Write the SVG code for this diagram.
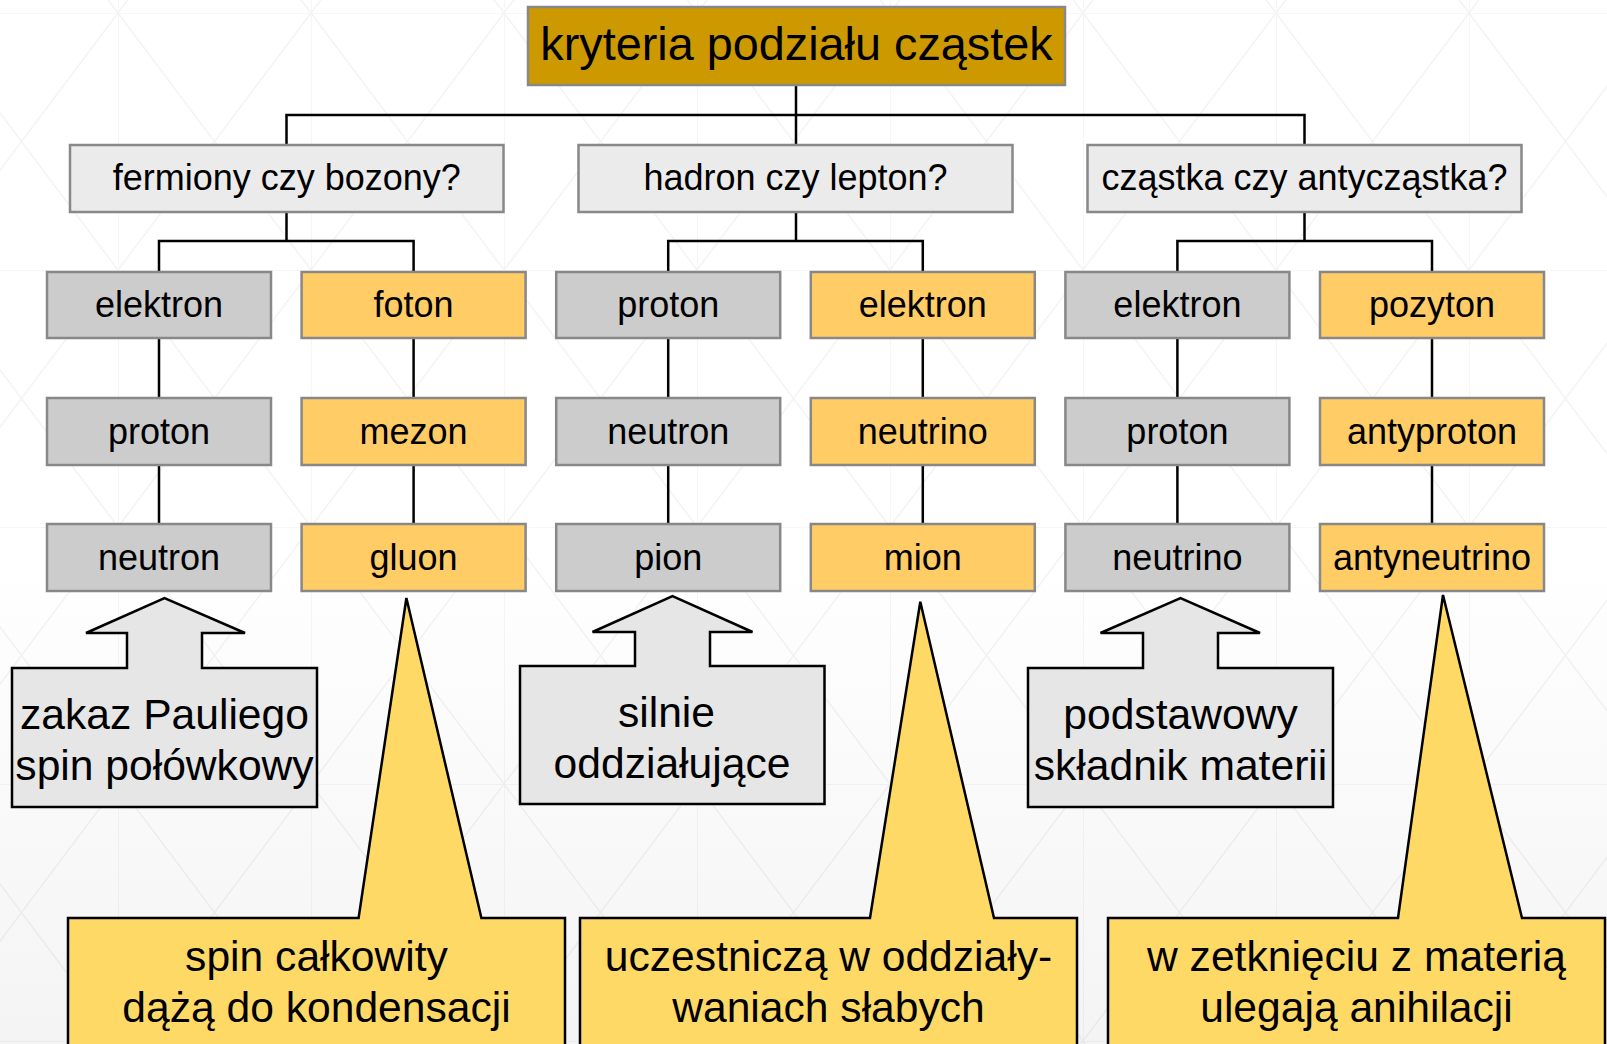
<svg xmlns="http://www.w3.org/2000/svg" width="1607" height="1044" viewBox="0 0 1607 1044">
<style>
text{font-family:"Liberation Sans",Arial,sans-serif;fill:#000;text-anchor:middle}
.root{fill:#CC9900;stroke:#888;stroke-width:2.5}
.q{fill:#EBEBEB;stroke:#888;stroke-width:2.5}
.g{fill:#CCCCCC;stroke:#888;stroke-width:2.5}
.o{fill:#FFCC66;stroke:#888;stroke-width:2.5}
.cg{fill:#E6E6E6;stroke:#000;stroke-width:2.5}
.cy{fill:#FFD966;stroke:#000;stroke-width:2.5}
.t46{font-size:46.8px}
.t36{font-size:36px}
.t42{font-size:42.6px}
.conn{fill:none;stroke:#000;stroke-width:2.5}
</style>
<defs>
<linearGradient id="bg" x1="0" y1="0" x2="0" y2="1">
<stop offset="0" stop-color="#FFFFFF"/>
<stop offset="0.53" stop-color="#FFFFFF"/>
<stop offset="1" stop-color="#F4F4F4"/>
</linearGradient>
<pattern id="lat" patternUnits="userSpaceOnUse" x="118" y="13" width="193" height="257">
<path d="M0,0H193M0,0V257M0,0L193,257M193,0L0,257" fill="none" stroke="#000" stroke-opacity="0.045" stroke-width="1.5"/>
</pattern>
</defs>
<rect width="1607" height="1044" fill="url(#bg)"/>
<rect width="1607" height="1044" fill="url(#lat)"/>

<g id="connectors">
<path class="conn" d="M796,85V115M286.5,145V115H1304.5V145M796,115V145"/>
<path class="conn" d="M286.5,212V241M159,272V241H413.6V272"/>
<path class="conn" d="M796,212V241M668.2,272V241H922.8V272"/>
<path class="conn" d="M1304.5,212V241M1177.4,272V241H1432V272"/>
<path class="conn" d="M159,338V398M159,465V524M413.6,338V398M413.6,465V524M668.2,338V398M668.2,465V524M922.8,338V398M922.8,465V524M1177.4,338V398M1177.4,465V524M1432,338V398M1432,465V524"/>
</g>

<g id="root"><rect class="root" x="528" y="7" width="537" height="78"/><text class="t46" x="796.5" y="60">kryteria podziału cząstek</text></g>

<g id="q1"><rect class="q" x="70" y="145" width="433.5" height="67"/><text class="t36" x="286.8" y="190">fermiony czy bozony?</text></g>
<g id="q2"><rect class="q" x="578.5" y="145" width="434" height="67"/><text class="t36" x="795.5" y="190">hadron czy lepton?</text></g>
<g id="q3"><rect class="q" x="1087.5" y="145" width="434" height="67"/><text class="t36" x="1304.5" y="190">cząstka czy antycząstka?</text></g>

<g id="n11"><rect class="g" x="47" y="272" width="224" height="66"/><text class="t36" x="159" y="317">elektron</text></g>
<g id="n12"><rect class="g" x="47" y="398" width="224" height="67"/><text class="t36" x="159" y="443.5">proton</text></g>
<g id="n13"><rect class="g" x="47" y="524" width="224" height="67"/><text class="t36" x="159" y="569.5">neutron</text></g>

<g id="n21"><rect class="o" x="301.6" y="272" width="224" height="66"/><text class="t36" x="413.6" y="317">foton</text></g>
<g id="n22"><rect class="o" x="301.6" y="398" width="224" height="67"/><text class="t36" x="413.6" y="443.5">mezon</text></g>
<g id="n23"><rect class="o" x="301.6" y="524" width="224" height="67"/><text class="t36" x="413.6" y="569.5">gluon</text></g>

<g id="n31"><rect class="g" x="556.2" y="272" width="224" height="66"/><text class="t36" x="668.2" y="317">proton</text></g>
<g id="n32"><rect class="g" x="556.2" y="398" width="224" height="67"/><text class="t36" x="668.2" y="443.5">neutron</text></g>
<g id="n33"><rect class="g" x="556.2" y="524" width="224" height="67"/><text class="t36" x="668.2" y="569.5">pion</text></g>

<g id="n41"><rect class="o" x="810.8" y="272" width="224" height="66"/><text class="t36" x="922.8" y="317">elektron</text></g>
<g id="n42"><rect class="o" x="810.8" y="398" width="224" height="67"/><text class="t36" x="922.8" y="443.5">neutrino</text></g>
<g id="n43"><rect class="o" x="810.8" y="524" width="224" height="67"/><text class="t36" x="922.8" y="569.5">mion</text></g>

<g id="n51"><rect class="g" x="1065.4" y="272" width="224" height="66"/><text class="t36" x="1177.4" y="317">elektron</text></g>
<g id="n52"><rect class="g" x="1065.4" y="398" width="224" height="67"/><text class="t36" x="1177.4" y="443.5">proton</text></g>
<g id="n53"><rect class="g" x="1065.4" y="524" width="224" height="67"/><text class="t36" x="1177.4" y="569.5">neutrino</text></g>

<g id="n61"><rect class="o" x="1320" y="272" width="224" height="66"/><text class="t36" x="1432" y="317">pozyton</text></g>
<g id="n62"><rect class="o" x="1320" y="398" width="224" height="67"/><text class="t36" x="1432" y="443.5">antyproton</text></g>
<g id="n63"><rect class="o" x="1320" y="524" width="224" height="67"/><text class="t36" x="1432" y="569.5">antyneutrino</text></g>

<g id="c1"><path class="cg" d="M12,668H127V633H86L164.5,598L245,633H202V668H317V807H12Z"/><text class="t42" x="164.5" y="729">zakaz Pauliego</text><text class="t42" x="164.5" y="780">spin połówkowy</text></g>
<g id="c2"><path class="cg" d="M520,666H635V632H592.5L672.5,596L752.5,632H710V666H824.5V804H520Z"/><text class="t42" x="666.5" y="727">silnie</text><text class="t42" x="672" y="778">oddziałujące</text></g>
<g id="c3"><path class="cg" d="M1028,668H1143V633H1100.5L1180.5,598L1260,633H1218V668H1333V807H1028Z"/><text class="t42" x="1180.5" y="728.5">podstawowy</text><text class="t42" x="1180.5" y="779.5">składnik materii</text></g>

<g id="c4"><path class="cy" d="M68,918H358.6L406.4,598L481.4,918H565V1050H68Z"/><text class="t42" x="316.5" y="971">spin całkowity</text><text class="t42" x="316.5" y="1021.5">dążą do kondensacji</text></g>
<g id="c5"><path class="cy" d="M580,918H870L920.3,601.7L994,918H1077V1050H580Z"/><text class="t42" x="828.5" y="971">uczestniczą w oddziały-</text><text class="t42" x="828.5" y="1021.5">waniach słabych</text></g>
<g id="c6"><path class="cy" d="M1108,918H1398L1443,595L1522,918H1605V1050H1108Z"/><text class="t42" x="1356.5" y="971">w zetknięciu z materią</text><text class="t42" x="1356.5" y="1021.5">ulegają anihilacji</text></g>
</svg>
